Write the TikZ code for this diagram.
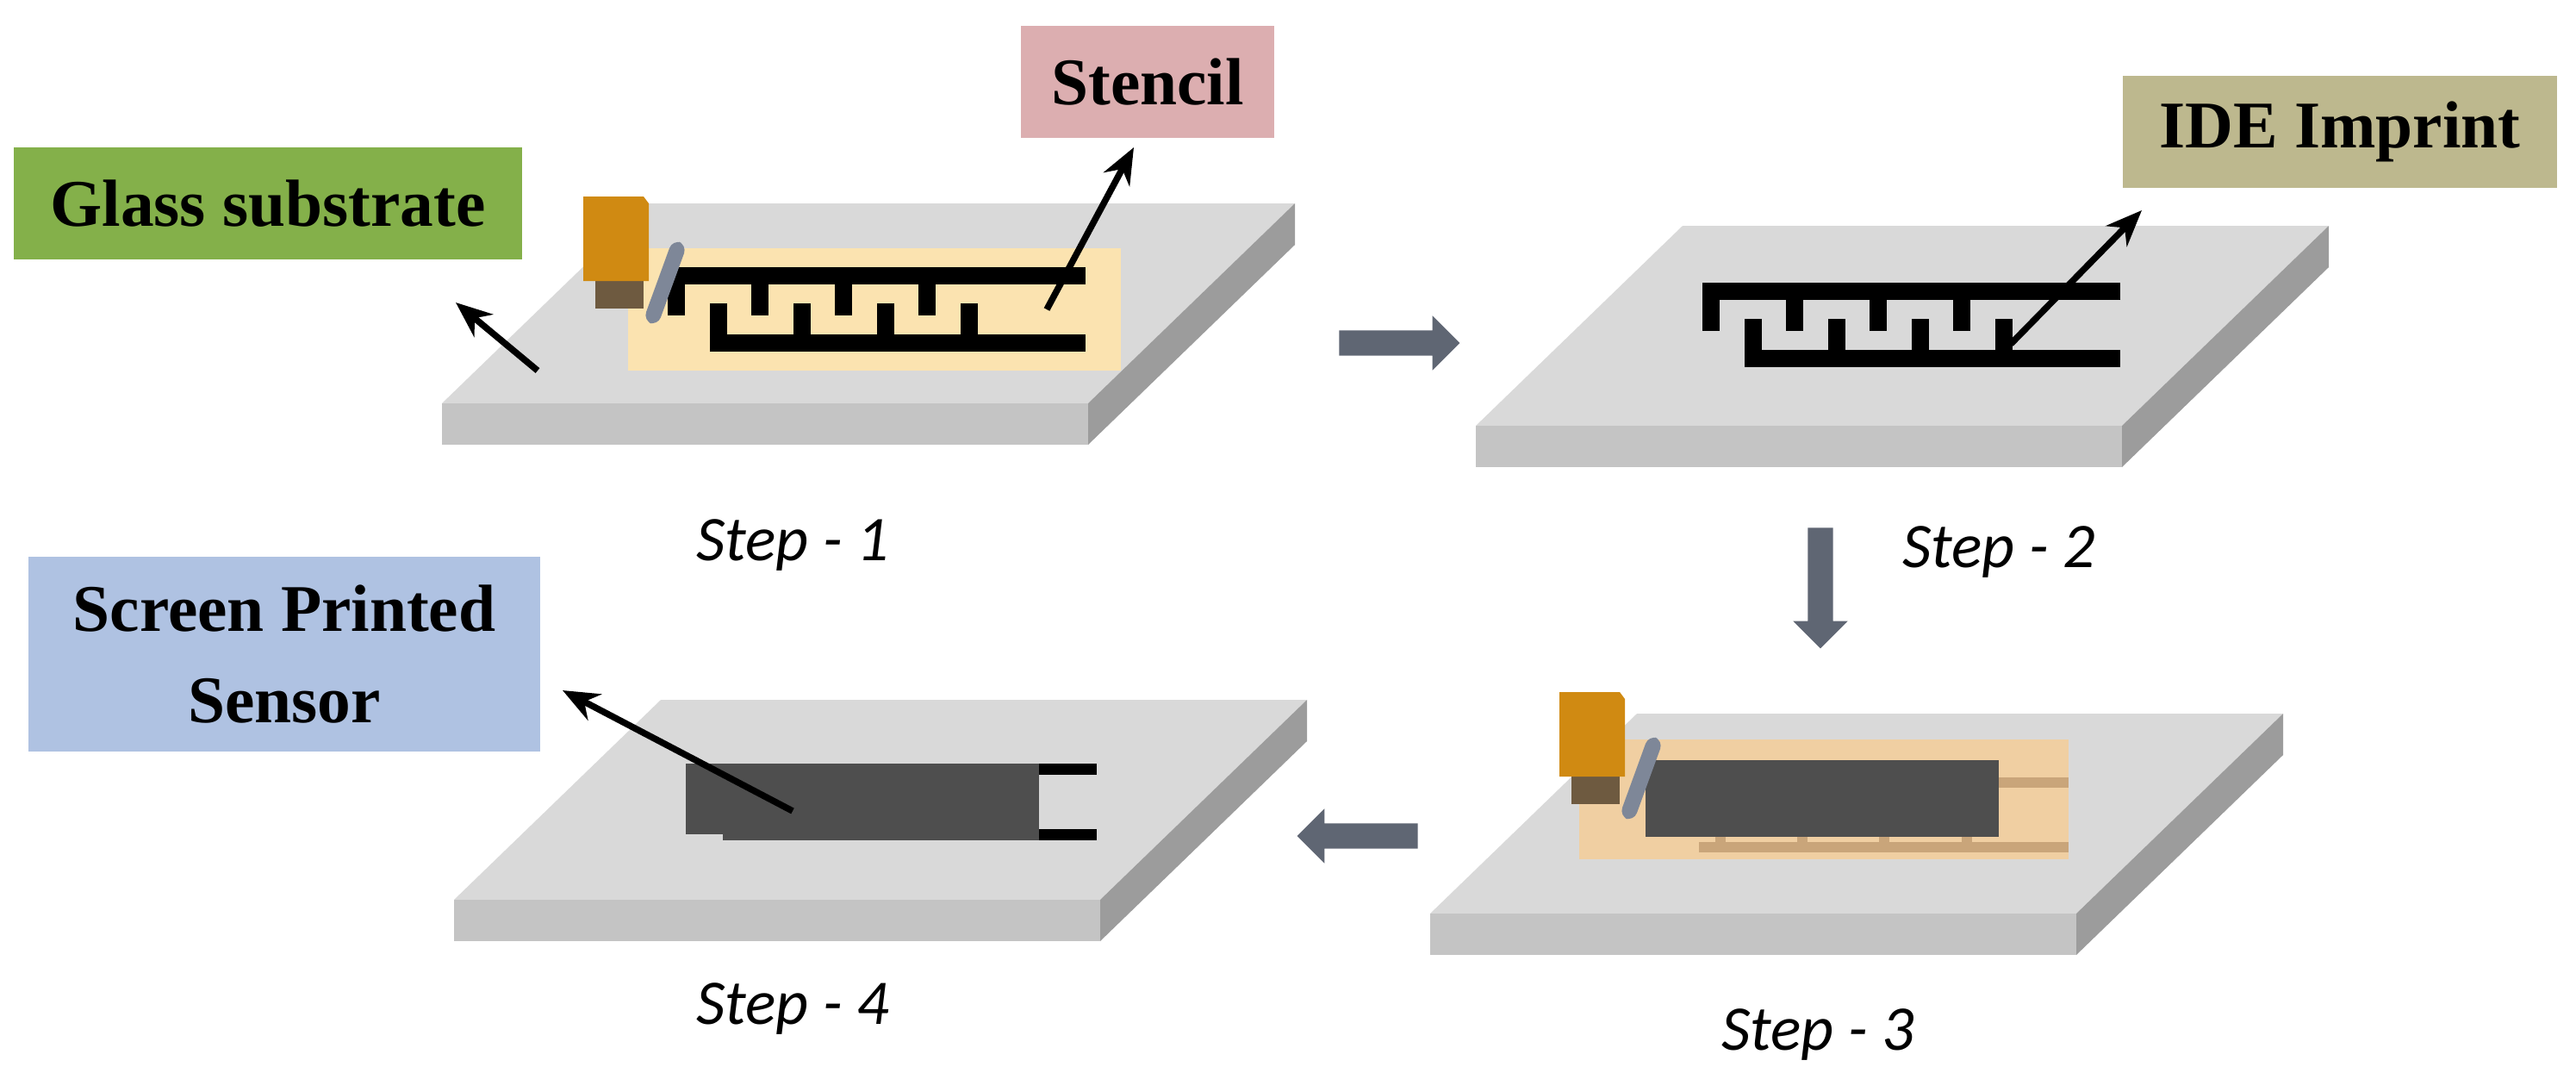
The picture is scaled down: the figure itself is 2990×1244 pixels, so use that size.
\documentclass[tikz,border=0pt]{standalone}
\usepackage{fontspec}
\setmainfont{Liberation Serif}
\newfontfamily\stepfont{Carlito}
\usetikzlibrary{arrows.meta,shapes.arrows}

\definecolor{slabtop}{HTML}{D9D9D9}
\definecolor{slabfront}{HTML}{C4C4C4}
\definecolor{slabside}{HTML}{9C9C9C}
\definecolor{pastestencil}{HTML}{FBE3B0}
\definecolor{tanstencil}{HTML}{F0CFA2}
\definecolor{tanline}{HTML}{C9A57A}
\definecolor{inkdark}{HTML}{4E4E4E}
\definecolor{squeegee}{HTML}{D08A12}
\definecolor{squeegeedark}{HTML}{6E5A40}
\definecolor{bladegray}{HTML}{7E8798}
\definecolor{flowgray}{HTML}{5F6673}
\definecolor{boxgreen}{HTML}{84B04A}
\definecolor{boxpink}{HTML}{DCAEB0}
\definecolor{boxolive}{HTML}{BDB88E}
\definecolor{boxblue}{HTML}{AFC2E2}

% glass slab: back-left corner of the top face
\newcommand{\slab}[2]{%
  \fill[slabtop] (#1,#2) -- ++(750,0) -- ++(-240,232) -- ++(-750,0) -- cycle;
  \fill[slabfront] (#1-240,#2+232) -- ++(750,0) -- ++(0,48) -- ++(-750,0) -- cycle;
  \fill[slabside] (#1+510,#2+232) -- (#1+750,#2) -- ++(0,48) -- (#1+510,#2+280) -- cycle;
}
% squeegee: top-left corner of the holder
\newcommand{\squeegee}[2]{%
  \fill[squeegeedark] (#1+14,#2+60) rectangle (#1+70,#2+130);
  \fill[squeegee] (#1,#2) -- ++(70,0) -- ++(6,8) -- ++(0,90) -- ++(-76,0) -- cycle;
  \fill[bladegray, rounded corners=3, rotate around={-20:(#1+95,#2+100)}] (#1+86,#2+50) rectangle (#1+104,#2+150);
}
% comb electrodes: left end of the upper bar, finger pitch
\newcommand{\comb}[3]{%
  \draw[line width=0.2cm] (#1+#3*4.9,#2) -- (#1,#2) -- (#1,#2+46);
  \foreach \k in {1,2,3} \draw[line width=0.2cm] (#1+\k*#3,#2) -- (#1+\k*#3,#2+46);
  \draw[line width=0.2cm] (#1+#3*0.5,#2+32) -- (#1+#3*0.5,#2+78) -- (#1+#3*4.9,#2+78);
  \foreach \k in {1.5,2.5,3.5} \draw[line width=0.2cm] (#1+\k*#3,#2+32) -- (#1+\k*#3,#2+78);
}

\begin{document}
\begin{tikzpicture}[x=0.01cm, y=-0.01cm,
    label box/.style={font=\bfseries\fontsize{22}{24}\selectfont, align=center, inner sep=0pt},
    step label/.style={font=\stepfont\itshape\fontsize{21}{24}\selectfont},
    pointer/.style={line width=0.075cm, -{Stealth[length=0.42cm, width=0.34cm]}},
    flow/.style={single arrow, fill=flowgray, minimum height=1.4cm, inner xsep=0pt,
      inner ysep=0.14cm, single arrow head extend=0.17cm}]
  \useasboundingbox (0,0) rectangle (2990,1244);

  % step 1
  \slab{753}{236}
  \fill[pastestencil] (729,288) rectangle (1301,430);
  \comb{785}{320}{97}
  \squeegee{677}{228}
  % step 2
  \slab{1953}{262}
  \comb{1986}{338}{97}
  % step 3
  \slab{1900}{828}
  \fill[tanstencil] (1833,858) rectangle (2401,997);
  \fill[tanline] (2320,902) rectangle (2401,914);
  \fill[tanline] (1972,977) rectangle (2401,989);
  \foreach \x in {1991,2086,2181,2277} \fill[tanline] (\x,965) rectangle (\x+12,977);
  \fill[inkdark] (1910,882) rectangle (2320,971);
  \squeegee{1810}{803}
  % step 4
  \slab{767}{812}
  \fill[inkdark] (796,886) rectangle (1206,968);
  \fill[inkdark] (839,960) rectangle (1206,975);
  \fill[black] (1206,886) rectangle (1273,899);
  \fill[black] (1206,962) rectangle (1273,975);

  % labels
  \node[label box, fill=boxgreen, minimum width=5.89cm, minimum height=1.29cm] (glass) at (311,236) {Glass substrate};
  \node[label box, fill=boxpink, minimum width=2.93cm, minimum height=1.29cm] (stencil) at (1332,95) {Stencil};
  \node[label box, fill=boxolive, minimum width=5.03cm, minimum height=1.3cm] (imprint) at (2716,153) {IDE Imprint};
  \node[label box, fill=boxblue, minimum width=5.93cm, minimum height=2.26cm] (sensor) at (330,759) {Screen Printed\\[6pt]Sensor};

  \node[step label] (step1) at (920,633) {Step - 1};
  \node[step label] (step2) at (2320,640) {Step - 2};
  \node[step label] (step3) at (2110,1200) {Step - 3};
  \node[step label] (step4) at (920,1170) {Step - 4};

  % pointers
  \coordinate (glassfoot) at (624,430);
  \coordinate (glasstip) at (529,351);
  \coordinate (stencilfoot) at (1215,359);
  \coordinate (stenciltip) at (1316,171);
  \coordinate (imprintfoot) at (2334,399);
  \coordinate (imprinttip) at (2486,244);
  \coordinate (sensorfoot) at (920,941);
  \coordinate (sensortip) at (653,801);
  \draw[pointer] (glassfoot) -- (glasstip);
  \draw[pointer] (stencilfoot) -- (stenciltip);
  \draw[pointer] (imprintfoot) -- (imprinttip);
  \draw[pointer] (sensorfoot) -- (sensortip);

  % flow arrows
  \node[flow] (right) at (1617,398) {};
  \node[flow, rotate=-90] (down) at (2113,675) {};
  \node[flow, rotate=180] (left) at (1583,970) {};
\end{tikzpicture}
\end{document}
